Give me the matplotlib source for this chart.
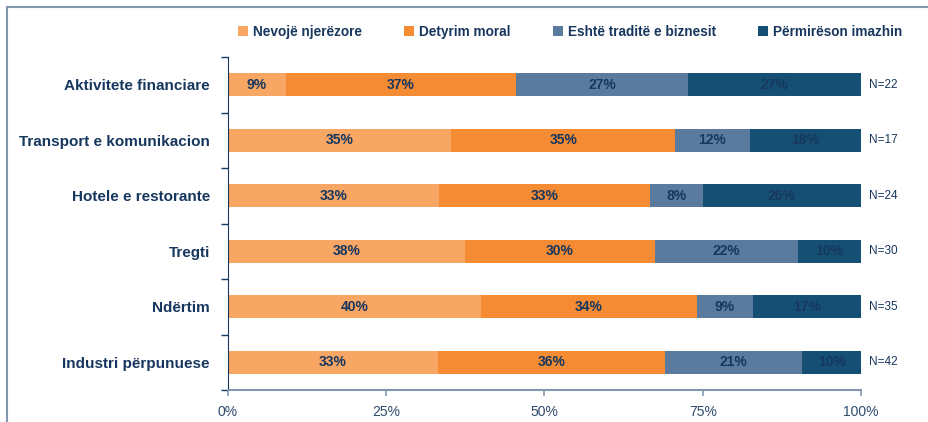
import numpy as np
import matplotlib.pyplot as plt
from matplotlib.lines import Line2D
from matplotlib.patches import Patch

# Données (parts en %, de haut en bas)
sectors = ["Aktivitete financiare", "Transport e komunikacion", "Hotele e restorante",
           "Tregti", "Ndërtim", "Industri përpunuese"]
series = ["Nevojë njerëzore", "Detyrim moral", "Eshtë traditë e biznesit", "Përmirëson imazhin"]
nevoje = [9.1, 35.3, 33.3, 37.4, 40.0, 33.2]
detyrim = [36.4, 35.3, 33.4, 30.1, 34.1, 35.8]
tradite = [27.2, 11.8, 8.3, 22.5, 8.8, 21.7]
imazh = [27.3, 17.6, 25.0, 10.0, 17.1, 9.3]
labels = [["9%", "35%", "33%", "38%", "40%", "33%"],
          ["37%", "35%", "33%", "30%", "34%", "36%"],
          ["27%", "12%", "8%", "22%", "9%", "21%"],
          ["27%", "18%", "26%", "10%", "17%", "10%"]]
n_counts = [22, 17, 24, 30, 35, 42]

colors = ["#F8A664", "#F58B33", "#5A7A9E", "#154F74"]
navy = "#17375E"
grey_blue = "#8497B0"

plt.rcParams['font.family'] = ['Liberation Sans', 'DejaVu Sans']

fig = plt.figure(figsize=(9.29, 4.22), dpi=100)
ax = fig.add_axes([228 / 929, 1 - 390 / 422, 633 / 929, 333 / 422])

y = np.arange(len(sectors))
left = np.zeros(len(sectors))
for vals, col, labs in zip([nevoje, detyrim, tradite, imazh], colors, labels):
    vals = np.array(vals)
    ax.barh(y, vals, left=left, height=0.42, color=col, edgecolor="none")
    for yi, (l, v, t) in enumerate(zip(left, vals, labs)):
        ax.text(l + v / 2, yi, t, ha="center", va="center", fontsize=10,
                fontweight="bold", color=navy)
    left += vals

for yi, n in enumerate(n_counts):
    ax.text(101.3, yi, f"N={n}", ha="left", va="center", fontsize=8.5, color=navy)

ax.set_xlim(0, 100)
ax.set_ylim(len(sectors) - 0.5, -0.5)
ax.set_xticks([0, 25, 50, 75, 100])
ax.set_xticklabels(["0%", "25%", "50%", "75%", "100%"], fontsize=10, color="#2E4A6B")
ax.set_yticks(y)
ax.set_yticklabels(sectors, fontsize=11, fontweight="bold", color=navy)
ax.set_yticks(np.arange(-0.5, len(sectors)), minor=True)
ax.tick_params(axis="y", which="major", length=0, pad=13)
ax.tick_params(axis="y", which="minor", length=5, color=navy, width=1)
ax.tick_params(axis="x", length=4, color=grey_blue, width=1.2, pad=7)

for s in ["top", "right"]:
    ax.spines[s].set_visible(False)
ax.spines["left"].set_color(navy)
ax.spines["bottom"].set_color(grey_blue)
ax.spines["bottom"].set_linewidth(1.5)

handles = [Patch(facecolor=c, edgecolor="none") for c in colors]
fig.legend(handles, series, loc="center", bbox_to_anchor=(570 / 929, 1 - 32 / 422),
           ncol=4, frameon=False, handlelength=0.75, handleheight=0.75,
           handletextpad=0.35, columnspacing=3.1,
           prop={"size": 9.8, "weight": "bold"}, labelcolor=navy)

# cadre gris autour de la figure
fig.add_artist(Line2D([7 / 929, 1], [1 - 7 / 422, 1 - 7 / 422], color=grey_blue, lw=1.5))
fig.add_artist(Line2D([7 / 929, 7 / 929], [0, 1 - 7 / 422], color=grey_blue, lw=1.5))

fig.savefig("out.png", dpi=100)
